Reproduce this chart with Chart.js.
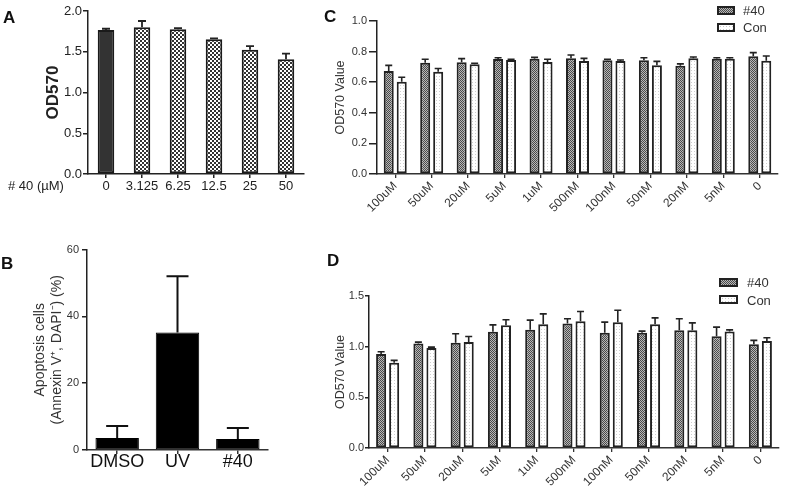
<!DOCTYPE html>
<html>
<head>
<meta charset="utf-8">
<script src="https://cdn.jsdelivr.net/npm/chart.js@4.4.1/dist/chart.umd.min.js"></script>
<style>
  html, body { margin:0; padding:0; background:#fff; }
  body { width:787px; height:492px; position:relative; overflow:hidden; font-family:'Liberation Sans', Arial, sans-serif; }
  canvas { position:absolute; }
  .lbl { position:absolute; white-space:nowrap; color:#111; }
  .panel { font-weight:bold; font-size:17px; line-height:20px; }
  .leg { position:absolute; box-sizing:border-box; border:2px solid #222; }
  .p40 { background: repeating-conic-gradient(#4a4a4a 0 25%, #b8b8b8 0 50%) 0 0/2px 2px; }
  .pcon { background: radial-gradient(#c8c8c8 35%, transparent 40%) 0 0/3px 3px, #fff; }
  .legt { position:absolute; font-size:13px; line-height:15px; color:#333; }
</style>
</head>
<body>
<canvas id="cA" width="320" height="200" style="left:0;top:0"></canvas>
<canvas id="cB" width="300" height="252" style="left:0;top:240px"></canvas>
<canvas id="cC" width="487" height="240" style="left:300px;top:0"></canvas>
<canvas id="cD" width="487" height="242" style="left:300px;top:250px"></canvas>

<div class="lbl panel" style="left:3px;top:8px">A</div>
<div class="lbl panel" style="left:1px;top:254px">B</div>
<div class="lbl panel" style="left:324px;top:7px">C</div>
<div class="lbl panel" style="left:327px;top:251px">D</div>
<div class="lbl" style="left:8px;top:178px;font-size:13px;line-height:15px;color:#222"># 40 (&micro;M)</div>

<div class="leg p40" style="left:717px;top:6px;width:18px;height:9px"></div>
<div class="leg pcon" style="left:717px;top:23px;width:18px;height:9px"></div>
<div class="legt" style="left:743px;top:3px">#40</div>
<div class="legt" style="left:743px;top:20px">Con</div>

<div class="leg p40" style="left:719px;top:278px;width:19px;height:9px"></div>
<div class="leg pcon" style="left:719px;top:295px;width:19px;height:9px"></div>
<div class="legt" style="left:747px;top:275px">#40</div>
<div class="legt" style="left:747px;top:293px">Con</div>

<script>
// ---------- data ----------
const catsA = ['0', '3.125', '6.25', '12.5', '25', '50'];
const valsA = [1.767, 1.800, 1.775, 1.653, 1.525, 1.407];
const errA  = [0.015, 0.077, 0.015, 0.012, 0.045, 0.069];

const catsB = ['DMSO', 'UV', '#40'];
const valsB = [3.6, 35.2, 3.3];
const errB  = [3.6, 16.8, 3.3];

const concLabels = ['100uM', '50uM', '20uM', '5uM', '1uM', '500nM', '100nM', '50nM', '20nM', '5nM', '0'];

const c40     = [0.673, 0.727, 0.730, 0.752, 0.754, 0.756, 0.743, 0.743, 0.708, 0.754, 0.769];
const c40Err  = [0.037, 0.023, 0.024, 0.008, 0.008, 0.022, 0.007, 0.017, 0.012, 0.006, 0.024];
const cCon    = [0.603, 0.669, 0.717, 0.745, 0.732, 0.739, 0.739, 0.710, 0.756, 0.754, 0.740];
const cConErr = [0.029, 0.021, 0.007, 0.005, 0.018, 0.017, 0.006, 0.026, 0.009, 0.006, 0.031];

const d40     = [0.927, 1.032, 1.038, 1.147, 1.166, 1.229, 1.137, 1.137, 1.163, 1.104, 1.023];
const d40Err  = [0.023, 0.013, 0.089, 0.068, 0.096, 0.046, 0.105, 0.016, 0.112, 0.089, 0.039];
const dCon    = [0.842, 0.986, 1.045, 1.212, 1.222, 1.252, 1.242, 1.222, 1.163, 1.150, 1.055];
const dConErr = [0.023, 0.009, 0.055, 0.053, 0.102, 0.095, 0.118, 0.062, 0.072, 0.016, 0.033];

const seriesNames = ['#40', 'Con'];

// ---------- helpers ----------
Chart.defaults.font.family = "'Liberation Sans', Arial, sans-serif";
Chart.defaults.animation = false;

function makePattern(ctx, size, bg, fg, cells) {
  const c = document.createElement('canvas');
  c.width = size; c.height = size;
  const g = c.getContext('2d');
  g.fillStyle = bg; g.fillRect(0, 0, size, size);
  g.fillStyle = fg;
  cells.forEach(([x, y, w, h]) => g.fillRect(x, y, w, h));
  return ctx.createPattern(c, 'repeat');
}

const errorBars = {
  id: 'errorBars',
  afterDatasetsDraw(chart) {
    const ctx = chart.ctx;
    const ys = chart.scales.y;
    chart.data.datasets.forEach((ds, i) => {
      if (!ds.errors) return;
      const meta = chart.getDatasetMeta(i);
      ctx.save();
      ctx.strokeStyle = ds.errorColor || '#222';
      ctx.lineWidth = ds.errorWidth || 1.5;
      meta.data.forEach((el, j) => {
        const v = ds.data[j], e = ds.errors[j];
        const x = el.x, y0 = el.y, y1 = ys.getPixelForValue(v + e);
        const h = (ds.capWidth || 6) / 2;
        ctx.beginPath();
        ctx.moveTo(x, y0); ctx.lineTo(x, y1);
        ctx.moveTo(x - h, y1); ctx.lineTo(x + h, y1);
        ctx.stroke();
      });
      ctx.restore();
    });
  }
};

function yAxis(opts) {
  return {
    min: 0, max: opts.max,
    afterFit(s) { s.width = opts.width; },
    ticks: { stepSize: opts.step, padding: opts.pad, color: opts.tickColor || '#222',
             font: { size: opts.tickSize },
             callback: opts.fmt || (v => v.toFixed(1)) },
    grid: { drawOnChartArea: false, drawTicks: true, tickLength: opts.tickLen, color: '#222', lineWidth: 1.5 },
    border: { color: '#222', width: 1.5 },
    title: { display: true, text: opts.title, color: opts.titleColor || '#222',
             font: { size: opts.titleSize, weight: opts.titleWeight || 'normal' },
             padding: { top: opts.titlePad, bottom: 0 } }
  };
}

// ---------- Panel A ----------
(function () {
  const ctx = document.getElementById('cA').getContext('2d');
  const checker = makePattern(ctx, 4, '#ffffff', '#333333', [[0, 0, 2, 2], [2, 2, 2, 2]]);
  new Chart(ctx, {
    type: 'bar',
    data: {
      labels: catsA,
      datasets: [{
        data: valsA, errors: errA, capWidth: 8, errorWidth: 1.8, errorColor: '#222',
        backgroundColor: valsA.map((v, i) => i === 0 ? '#333333' : checker),
        borderColor: '#1a1a1a', borderWidth: 2, borderSkipped: false,
        categoryPercentage: 1, barPercentage: 0.46
      }]
    },
    options: {
      responsive: false,
      layout: { padding: { left: 0, top: 11, right: 16, bottom: 0 } },
      plugins: { legend: { display: false }, tooltip: { enabled: false } },
      scales: {
        x: {
          afterFit(s) { s.height = 26; },
          ticks: { minRotation: 0, maxRotation: 0, autoSkip: false, padding: 1, color: '#222', font: { size: 13 } },
          grid: { offset: false, drawOnChartArea: false, tickLength: 4, color: '#222', lineWidth: 1.5 },
          border: { color: '#222', width: 1.5 }
        },
        y: yAxis({ max: 2.0, step: 0.5, width: 88, pad: 1, tickSize: 13, tickLen: 5,
                   title: 'OD570', titleSize: 17, titleWeight: 'bold', titlePad: 43 })
      }
    },
    plugins: [errorBars]
  });
})();

// ---------- Panel B ----------
(function () {
  const ctx = document.getElementById('cB').getContext('2d');
  new Chart(ctx, {
    type: 'bar',
    data: {
      labels: catsB,
      datasets: [{
        data: valsB, errors: errB, capWidth: 22, errorWidth: 2, errorColor: '#111',
        backgroundColor: '#000', borderColor: '#000', borderWidth: 1, borderSkipped: false,
        categoryPercentage: 1, barPercentage: 0.72
      }]
    },
    options: {
      responsive: false,
      layout: { padding: { left: 0, top: 9, right: 32, bottom: 0 } },
      plugins: { legend: { display: false }, tooltip: { enabled: false } },
      scales: {
        x: {
          afterFit(s) { s.height = 42; },
          ticks: { minRotation: 0, maxRotation: 0, padding: -3, color: '#111', font: { size: 18 } },
          grid: { offset: false, drawOnChartArea: false, tickLength: 4, color: '#333', lineWidth: 1.5 },
          border: { color: '#333', width: 1.5 }
        },
        y: yAxis({ max: 60, step: 20, width: 87, pad: 3, tickSize: 11, tickLen: 5, tickColor: '#333',
                   fmt: v => String(v),
                   title: ['Apoptosis cells', '(Annexin V\u207A, DAPI\u207B) (%)'], titleSize: 14,
                   titleColor: '#333', titlePad: 32 })
      }
    },
    plugins: [errorBars]
  });
})();

// ---------- Panels C & D ----------
function groupChart(id, vals40, err40, valsCon, errCon, cfg) {
  const ctx = document.getElementById(id).getContext('2d');
  const pat40 = makePattern(ctx, 2, '#b8b8b8', '#4a4a4a', [[0, 0, 1, 1], [1, 1, 1, 1]]);
  const patCon = makePattern(ctx, 3, '#ffffff', '#cfcfcf', [[1, 1, 1, 1]]);
  const common = { borderColor: '#222', borderWidth: 2, borderSkipped: false,
                   categoryPercentage: cfg.catPct, barPercentage: 0.77,
                   capWidth: 7, errorWidth: 1.6, errorColor: '#222' };
  new Chart(ctx, {
    type: 'bar',
    data: {
      labels: concLabels,
      datasets: [
        Object.assign({ label: seriesNames[0], data: vals40, errors: err40, backgroundColor: pat40 }, common),
        Object.assign({ label: seriesNames[1], data: valsCon, errors: errCon, backgroundColor: patCon }, common)
      ]
    },
    options: {
      responsive: false,
      layout: { padding: cfg.padding },
      plugins: { legend: { display: false }, tooltip: { enabled: false } },
      scales: {
        x: {
          afterFit(s) { s.height = cfg.xHeight; },
          ticks: { minRotation: 45, maxRotation: 45, autoSkip: false, padding: 1, color: '#333', font: { size: 12 } },
          grid: { offset: false, drawOnChartArea: false, tickLength: 4, color: '#333', lineWidth: 1.3 },
          border: { color: '#333', width: 1.5 }
        },
        y: yAxis({ max: cfg.max, step: cfg.step, width: cfg.yWidth, pad: cfg.tickPad, tickSize: 11,
                   tickLen: cfg.tickLen, tickColor: '#333',
                   title: 'OD570 Value', titleSize: 12.5, titleColor: '#333', titlePad: 33.5 })
      }
    },
    plugins: [errorBars]
  });
}

groupChart('cC', c40, c40Err, cCon, cConErr, {
  max: 1.0, step: 0.2, yWidth: 77, xHeight: 66, catPct: 0.713, tickPad: 2, tickLen: 8,
  padding: { left: 0, top: 21, right: 9, bottom: 0 }
});
groupChart('cD', d40, d40Err, dCon, dConErr, {
  max: 1.5, step: 0.5, yWidth: 69, xHeight: 44, catPct: 0.70, tickPad: 1, tickLen: 4,
  padding: { left: 0, top: 46, right: 8, bottom: 0 }
});
</script>
</body>
</html>
